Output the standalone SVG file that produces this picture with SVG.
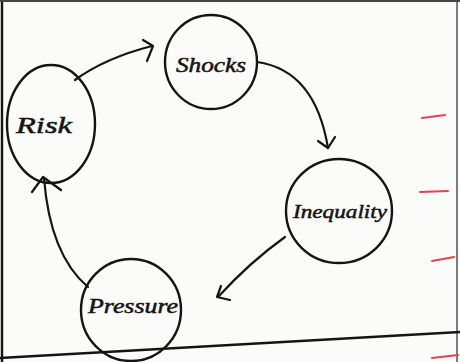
<svg xmlns="http://www.w3.org/2000/svg" width="460" height="362" viewBox="0 0 460 362">
<style>
.n{fill:none;stroke:#141414;stroke-width:2.4}
.c{fill:none;stroke:#141414;stroke-width:2.2;stroke-linecap:round;stroke-linejoin:round}
.t{font-family:"Liberation Serif","DejaVu Serif",serif;font-style:italic;fill:#141414;stroke:#141414;stroke-width:0.5;text-anchor:middle}
.r{stroke:#e0454f;stroke-width:2;stroke-linecap:round}
</style>
<rect width="460" height="362" fill="#fbfbfa"/>
<g id="frame">
<path class="n" d="M2,0 V362" stroke-width="3"/>
<path fill="none" stroke="#555" stroke-width="1.5" d="M457,0 V362"/>
<path fill="none" stroke="#444" stroke-width="2" d="M0,1 H460"/>
<path class="n" d="M0,358 Q230,345 460,332"/>
</g>
<g id="marks">
<path class="r" d="M422,118 L445,115"/>
<path class="r" d="M420,192 L448,191"/>
<path class="r" d="M432,261 L454,257"/>
<path class="r" d="M432,358 L458,355"/>
</g>
<g id="connectors">
<path class="c" d="M75,80 Q105,58 152,46"/>
<path class="c" d="M143,40 L153,46 L147,61"/>
<path class="c" d="M257,62 Q315,70 328,148"/>
<path class="c" d="M318,141 L328,148 L335,137"/>
<path class="c" d="M285,237 Q250,262 218,297"/>
<path class="c" d="M221,286 L217,297 L230,300"/>
<path class="c" d="M88,287 Q50,255 44,178"/>
<path class="c" d="M32,192 L43,177 L61,190"/>
</g>
<g id="risk">
<ellipse class="n" cx="51" cy="124" rx="44" ry="59"/>
<text class="t" x="44" y="133" font-size="24" textLength="56" lengthAdjust="spacingAndGlyphs">Risk</text>
</g>
<g id="shocks">
<ellipse class="n" cx="211" cy="62" rx="46" ry="47"/>
<text class="t" x="211" y="72" font-size="20" textLength="70" lengthAdjust="spacingAndGlyphs">Shocks</text>
</g>
<g id="inequality">
<ellipse class="n" cx="339" cy="211" rx="53" ry="52"/>
<text class="t" x="340" y="218" font-size="19" textLength="94" lengthAdjust="spacingAndGlyphs">Inequality</text>
</g>
<g id="pressure">
<ellipse class="n" cx="131" cy="310" rx="50" ry="51"/>
<text class="t" x="133" y="313" font-size="20" textLength="90" lengthAdjust="spacingAndGlyphs">Pressure</text>
</g>
</svg>
